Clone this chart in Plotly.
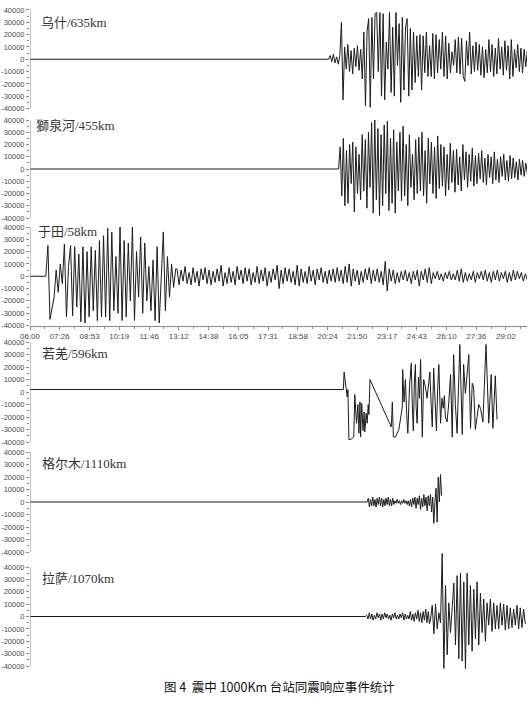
import plotly.graph_objects as go

W, H = 532, 709

# ---------------- data ----------------
TIME_LABELS = ["06:00", "07:26", "08:53", "10:19", "11:46", "13:12", "14:38", "16:05",
               "17:31", "18:58", "20:24", "21:50", "23:17", "24:43", "26:10", "27:36", "29:02"]
T_MIN, T_MAX = 360, 1803          # seconds (06:00 ... ~30:03)
Y_TICK_VALUES = [40000, 30000, 20000, 10000, 0, -10000, -20000, -30000, -40000]
Y_MINOR_VALUES = [35000, 25000, 15000, 5000, -5000, -15000, -25000, -35000]

STATION_NAMES = ["乌什/635km", "獅泉河/455km", "于田/58km", "若羌/596km", "格尔木/1110km", "拉萨/1070km"]

# amplitudes below in thousands of counts, sampled evenly between start and end (s)
WUSHI_START, WUSHI_END = 1227, 1804
WUSHI_K = [0, 3, -2, 4, -3, 2, -4, 3, 30, -33, 10, -8, 12, -10, 7, -12, 9, -6, 11, -9, 8, -16,
           22, -38, 23, 33, -39, 34, -16, 37, 38, -10, 38, -30, 37, -33, 14, -8, 38, -27, 26, -30,
           38, -5, 29, -35, 34, -25, 26, 33, -30, 25, -25, 22, -19, 19, -14, 20, -25, 19, -11, 22,
           -14, 11, -14, 21, -16, 20, -11, 16, -8, 22, -14, 19, -16, 13, -11, 6, -5, 16, -11, 18,
           -12, 17, -14, -18, 15, -5, 22, -12, 11, -10, 14, -9, 12, -13, 10, -15, 8, -11, 16, -10,
           12, -14, 9, -12, 17, -8, 10, -13, 15, -9, 11, -16, 16, -14, 8, -7, 12, -10, 9, -11, 8,
           -6, 7]

SHIQUANHE_START, SHIQUANHE_END = 1256, 1804
SHIQUANHE_K = [0, 18, -22, 25, -30, 15, -28, 20, -12, 22, -35, 18, -20, 12, -25, 28, -18, 24, -32,
               30, -15, 38, -36, 40, -25, 33, -38, 28, -30, 36, -20, 39, -34, 25, -28, 32, -36, 22,
               -18, 30, -26, 35, -22, 20, -30, 28, -15, 12, -25, 24, -20, 26, -18, 30, -22, 15, -28,
               25, -12, 22, -20, 18, -24, 27, -16, 20, -14, 18, -22, 12, -17, 21, -11, 15, -19, 16,
               -13, 10, -18, 20, -9, 14, -15, 12, -10, 17, -14, 11, -12, 13, -8, 15, -11, 9, -13, 12,
               -7, 10, -12, 14, -9, 8, -11, 10, -6, 12, -9, 7, -10, 11, -8, 9, -7, 6, -9, 8, -5, 7,
               -6, 5, -4]

YUTIAN_A_START, YUTIAN_A_END = 406, 783
YUTIAN_A_K = [0, 25, -35, -26, -17, 5, -13, 10, -6, 26, -33, 8, 25, -32, 24, -25, 18, -37, 24, -38,
              20, -33, 24, -28, 21, -36, 29, -33, 33, -33, 39, -36, 36, -28, 16, -30, 40, -36, 29,
              -33, 27, -20, 40, -36, 20, -17, 32, -30, 27, -20, 8, -28, 13, -36, 24, -38, 5, 36,
              -28, 16, -17, 10, -9, 6]
YUTIAN_B_START, YUTIAN_B_END = 787, 1804
YUTIAN_B_K = [6, -7, 5, -4, 8, -6, 3, -7, 7, -5, 4, -8, 6, -3, 7, -6, 5, -7, 4, -5,
              6, -4, 9, -8, 3, -6, 7, -5, 4, -7, 8, -3, 5, -6, 7, -4, 6, -7, 3, -5,
              8, -6, 5, -4, 7, -8, 4, -5, 6, -3, 9, -10, 5, -6, 7, -4, 6, -5, 4, -7,
              9, -8, 6, -5, 4, -6, 8, -4, 5, -7, 6, -3, 7, -5, 4, -6, 5, -4, 6, -5,
              7, -4, 5, -6, 8, -5, 10, -8, 6, -4, 5, -7, 4, -5, 6, -3, 7, -6, 5, -4,
              6, -5, 4, -7, 12, -12, 6, -4, 5, -6, 3, -5, 4, -3, 5, -4, 3, -6, 4, -3,
              5, -8, 4, -3, 6, -5, 7, -6, 3, -2, 4, -3, 2, -4, 3, -2, 4, -3, 2, -3,
              5, -4, 6, -5, 3, -4, 2, -3, 4, -5, 3, -2, 4, -3, 5, -4, 3, -5, 4, -3,
              5, -4, 3, -2, 4, -5, 3, -4, 5, -3, 4, -2, 3, -4, 2, -3]

# 若羌 has gaps in the record, so its sample times are listed
RUOQIANG_BASE_K = 2
RUOQIANG_T = [1270, 1272, 1276, 1281, 1283, 1286, 1291, 1297, 1300, 1303, 1308, 1312, 1315, 1318,
              1320, 1323, 1327, 1330, 1332, 1336, 1339, 1342, 1344, 1347,
              1409, 1412, 1415, 1421, 1431, 1441,
              1442, 1446, 1450, 1454, 1457, 1462, 1467, 1470, 1473, 1476, 1479, 1481, 1484, 1488,
              1491, 1494, 1499, 1503, 1508, 1513, 1517, 1521, 1525, 1528, 1532, 1536, 1540, 1544,
              1547, 1552, 1556, 1560, 1563, 1566, 1571, 1576, 1581, 1586, 1590, 1595, 1600, 1608,
              1615, 1619, 1624, 1629, 1634, 1639, 1644, 1648, 1653, 1658, 1663, 1668, 1675, 1684,
              1692, 1699, 1704, 1711, 1716]
RUOQIANG_K = [2, 16, 7, -4, 2, -38, -38, -37, -36, -2, -25, -10, -33, -8, -36, -9, -31, -16, -32,
              -17, -25, -10, -18, 10,
              -28, -8, -36, -36, -30, -12,
              18, -8, 10, -20, -33, 5, 23, -10, -31, 8, 22, -12, -25, 12,
              -5, 26, -36, 10, 4, -5, 8, 16, -12, -28, 19, -8, -31, 5,
              22, -25, -5, -13, -3, -20, -24, -8, 14, -36, 30, -10, -33, 38,
              -34, 22, -1, 14, 30, -29, 7, 4, -30, -20, -10, -13, -24, 38,
              -25, 14, -29, 13, -22]

GEERMU_START, GEERMU_END = 1339, 1555
GEERMU_K = [0, 3, -4, 2, -3, 4, -3, 2, -4, 3, -2, 4, -3, 3, -4, 2, -3, 3, -2, 4, -3, 2, -3, 3, -2, 1,
            -1, 2, -1, 1, -2, 1, -1, 2, -1, 1, -2, 1,
            -3, 2, -4, 3, -2, 4, -5, 3, -2, 5, -6, 3, -4, 6, -3, 4, -7, 5, -3, 6, -8, 4,
            -17, 0, 11, -16, 20, 0, 22, 5]

LASA_NOISE_START, LASA_NOISE_END = 1334, 1520
LASA_NOISE_K = [0, 1, -2, 3, -2, 2, -3, 1, -2, 3, -1, 2, -3, 2, -2, 3, -1, 2, -2, 1, -3, 2, -1, 3, -2,
                1, -2, 2, -1, 3, -3, 2, -2, 1, -2, 4, -3, 2, -4, 3, -2, 5, -4, 3, -5, 4, -3, 6, -5,
                4, -6]
LASA_MAIN_START, LASA_MAIN_END = 1523, 1798
LASA_MAIN_K = [-2, 9, -14, 10, -10, 3, -5, 51, -42, 25, -31, 11, -13, 5, 27, -23, 33, -34, 35, -36,
               28, -42, 35, -23, 25, -28, 22, -18, 28, -23, 19, -13, 14, -20, 11, -7, 14, -12, 11,
               -10, 9, -10, 11, -7, 10, -11, 9, -10, 7, -9, 6, -7, 9, -10, 7, -9, 6, -6]

CAPTION = "图 4  震中 1000Km 台站同震响应事件统计"


# ---------------- helpers ----------------
def even_times(t0, t1, n):
    step = (t1 - t0) / (n - 1)
    return [t0 + i * step for i in range(n)]


def kilo(vals):
    return [v * 1000 for v in vals]


def mmss(lbl):
    m, s = lbl.split(":")
    return int(m) * 60 + int(s)


series = []
series.append(([T_MIN] + even_times(WUSHI_START, WUSHI_END, len(WUSHI_K)), [0] + kilo(WUSHI_K)))
series.append(([T_MIN] + even_times(SHIQUANHE_START, SHIQUANHE_END, len(SHIQUANHE_K)),
               [0] + kilo(SHIQUANHE_K)))
series.append(([T_MIN] + even_times(YUTIAN_A_START, YUTIAN_A_END, len(YUTIAN_A_K))
               + even_times(YUTIAN_B_START, YUTIAN_B_END, len(YUTIAN_B_K)),
               [0] + kilo(YUTIAN_A_K) + kilo(YUTIAN_B_K)))
series.append(([T_MIN] + RUOQIANG_T, kilo([RUOQIANG_BASE_K] + RUOQIANG_K)))
series.append(([T_MIN] + even_times(GEERMU_START, GEERMU_END, len(GEERMU_K)), [0] + kilo(GEERMU_K)))
series.append(([T_MIN] + even_times(LASA_NOISE_START, LASA_NOISE_END, len(LASA_NOISE_K))
               + even_times(LASA_MAIN_START, LASA_MAIN_END, len(LASA_MAIN_K)),
               [0] + kilo(LASA_NOISE_K) + kilo(LASA_MAIN_K)))

# pixel rows of +40000 / -40000 for each panel, and the y-range shown
PANEL_PX = [(10, 108.5), (120, 218), (227, 325.5), (342, 442), (452, 552), (567, 666)]
PANEL_RANGE = [(-44000, 44000), (-44000, 44000), (-40000, 41500), (-44000, 44000),
               (-44000, 44000), (-44000, 56000)]
LABEL_PX = [(39, 22.5), (34, 126), (36, 232), (40, 353), (40, 463), (40, 578)]

X_DOMAIN = [30 / W, 527 / W]
AX_COLOR = "#8a8a8a"
TICK_FONT = dict(family="Liberation Sans, Arial, sans-serif", size=7.5, color="#4a4a4a")

fig = go.Figure()
layout = dict(
    width=W, height=H, margin=dict(l=0, r=0, t=0, b=0, autoexpand=False),
    paper_bgcolor="white", plot_bgcolor="rgba(0,0,0,0)", showlegend=False,
    shapes=[], annotations=[],
)

tick_vals_x = [mmss(l) for l in TIME_LABELS]
minor_x = [(a + b) / 2 for a, b in zip(tick_vals_x[:-1], tick_vals_x[1:])]
minor_x.append(tick_vals_x[-1] + (tick_vals_x[1] - tick_vals_x[0]) / 2)

for i, ((xs, ys), (top40, bot40), (lo, hi), name, (lx, ly)) in enumerate(
        zip(series, PANEL_PX, PANEL_RANGE, STATION_NAMES, LABEL_PX)):
    n = i + 1
    sfx = "" if n == 1 else str(n)
    s = (bot40 - top40) / 80000.0
    z = (top40 + bot40) / 2.0
    dom_top = z - hi * s
    dom_bot = z - lo * s
    ydom = [max(0, 1 - dom_bot / H), min(1, 1 - dom_top / H)]

    fig.add_trace(go.Scatter(x=xs, y=ys, mode="lines",
                             line=dict(color="#1c1c1c", width=1),
                             xaxis="x" + sfx, yaxis="y" + sfx, hoverinfo="skip"))

    xa = dict(domain=X_DOMAIN, range=[T_MIN, T_MAX], anchor="y" + sfx, automargin=False,
              showgrid=False, zeroline=False, fixedrange=True)
    if n == 3:
        xa.update(showline=True, linecolor=AX_COLOR, linewidth=1, ticks="outside",
                  ticklen=3, tickcolor=AX_COLOR, tickmode="array", tickvals=tick_vals_x,
                  ticktext=TIME_LABELS, tickfont=dict(TICK_FONT, size=8),
                  minor=dict(tickmode="array", tickvals=minor_x, ticks="outside",
                             ticklen=2, tickcolor=AX_COLOR))
    else:
        xa.update(visible=False)
    ya = dict(domain=ydom, range=[lo, hi], anchor="x" + sfx, showgrid=False, zeroline=False,
              showline=False, ticks="outside", ticklen=3, tickcolor=AX_COLOR, automargin=False,
              tickmode="array", tickvals=Y_TICK_VALUES,
              ticktext=[str(v) for v in Y_TICK_VALUES], tickfont=TICK_FONT,
              minor=dict(tickmode="array", tickvals=Y_MINOR_VALUES, ticks="outside",
                         ticklen=2, tickcolor=AX_COLOR),
              fixedrange=True)
    layout["xaxis" + sfx] = xa
    layout["yaxis" + sfx] = ya

    layout["shapes"].append(dict(type="line", xref="x" + sfx, yref="y" + sfx,
                                 x0=T_MIN, x1=T_MIN, y0=-40000, y1=40000,
                                 line=dict(color=AX_COLOR, width=1)))
    layout["annotations"].append(dict(
        text=name, xref="paper", yref="paper", x=lx / W, y=1 - ly / H,
        xanchor="left", yanchor="middle", showarrow=False,
        font=dict(family="Liberation Serif, Noto Sans CJK SC, serif", size=13, color="#333333")))

layout["annotations"].append(dict(
    text=CAPTION, xref="paper", yref="paper", x=279 / W, y=1 - 686 / H,
    xanchor="center", yanchor="middle", showarrow=False,
    font=dict(family="Noto Sans CJK SC, sans-serif", size=12.5, color="#111111")))

fig.update_layout(**layout)
fig.write_html("out.html", config={"displayModeBar": False, "staticPlot": True},
               post_script="document.body.style.margin='0';document.body.style.overflow='hidden';")
